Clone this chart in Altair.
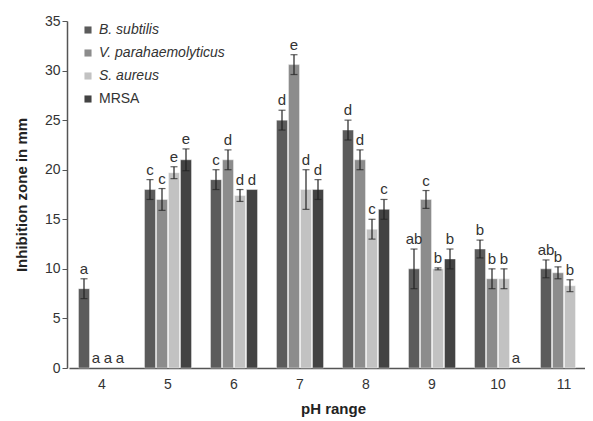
import altair as alt
import pandas as pd
import numpy as np

ph = ["4", "5", "6", "7", "8", "9", "10", "11"]
series = ["B. subtilis", "V. parahaemolyticus", "S. aureus", "MRSA"]
colors = ["#5b5b5b", "#8c8c8c", "#c2c2c2", "#434343"]

b_val = [8, 18, 19, 25, 24, 10, 12, 10]
b_err = [1, 1, 1, 1, 1, 2, 0.9, 0.9]
b_lab = ["a", "c", "c", "d", "d", "ab", "b", "ab"]

v_val = [0, 17, 21, 30.6, 21, 17, 9, 9.6]
v_err = [0, 1.1, 1, 1, 1, 0.9, 1, 0.6]
v_lab = ["a", "c", "d", "e", "d", "c", "b", "b"]

s_val = [0, 19.7, 17.4, 18, 14, 10, 9, 8.3]
s_err = [0, 0.6, 0.6, 2, 1, 0.1, 1, 0.6]
s_lab = ["a", "e", "d", "d", "c", "b", "b", "b"]

m_val = [0, 21, 18, 18, 16, 11, 0, None]
m_err = [0, 1.1, 0, 1, 1, 1, 0, None]
m_lab = ["a", "e", "d", "d", "c", "b", "a", None]

rows = []
for name, vals, errs, labs in zip(series, [b_val, v_val, s_val, m_val],
                                  [b_err, v_err, s_err, m_err],
                                  [b_lab, v_lab, s_lab, m_lab]):
    for p, v, e, l in zip(ph, vals, errs, labs):
        if v is None:
            continue
        rows.append({"ph": p, "series": name, "value": v, "err": e,
                     "lo": v - e, "hi": v + e, "label": l})
df = pd.DataFrame(rows)

x_enc = alt.X("ph:N", sort=ph, scale=alt.Scale(range=[2, 530], paddingInner=0, paddingOuter=0),
              axis=alt.Axis(title="pH range", labelAngle=0, ticks=False, labelPadding=9,
                            labelFontSize=14, labelColor="#333333", titleFontSize=15,
                            titleFontWeight="bold", titleColor="#222222", titlePadding=10,
                            domainColor="#555555", domainWidth=1.5))
xo = alt.XOffset("series:N", sort=series,
                 scale=alt.Scale(domain=series, paddingInner=0.08, paddingOuter=0.79))
y_scale = alt.Scale(domain=[0, 35], nice=False)

bars = alt.Chart(df[df["value"] > 0]).mark_bar(stroke="white", strokeWidth=0.6,
                                               strokeOpacity=0.7).encode(
    x=x_enc,
    xOffset=xo,
    y=alt.Y("value:Q", scale=y_scale,
            axis=alt.Axis(title="Inhibition zone in mm", values=list(range(0, 36, 5)),
                          grid=False, tickSize=5, labelFontSize=14, labelColor="#333333",
                          titleFontSize=15, titleFontWeight="bold", titleColor="#222222",
                          titlePadding=15, domainColor="#555555", tickColor="#555555",
                          domainWidth=1.5)),
    color=alt.Color("series:N", sort=series,
                    scale=alt.Scale(domain=series, range=colors),
                    legend=alt.Legend(title=None, orient="none", legendX=14, legendY=2,
                                      symbolType="square", symbolSize=50, labelFontSize=14,
                                      labelColor="#333333", rowPadding=9, labelOffset=4,
                                      symbolStrokeWidth=0,
                                      labelFontStyle=alt.ExprRef(
                                          "datum.label == 'MRSA' ? 'normal' : 'italic'"))),
)

eb = df[df["err"] > 0]
rules = alt.Chart(eb).mark_rule(color="#222222", strokeWidth=1.2).encode(
    x=alt.X("ph:N", sort=ph), xOffset=xo,
    y=alt.Y("lo:Q", scale=y_scale), y2="hi:Q")
cap_top = alt.Chart(eb).mark_tick(color="#222222", thickness=1.2, size=7).encode(
    x=alt.X("ph:N", sort=ph), xOffset=xo, y=alt.Y("hi:Q", scale=y_scale))
cap_bot = alt.Chart(eb).mark_tick(color="#222222", thickness=1.2, size=7).encode(
    x=alt.X("ph:N", sort=ph), xOffset=xo, y=alt.Y("lo:Q", scale=y_scale))

labels = alt.Chart(df).mark_text(baseline="bottom", dy=-2, fontSize=15, color="#333333",
                                 font="Liberation Sans").encode(
    x=alt.X("ph:N", sort=ph), xOffset=xo,
    y=alt.Y("hi:Q", scale=y_scale), text="label:N")

chart = alt.layer(bars, rules, cap_top, cap_bot, labels).properties(
    width=518, height=347,
    autosize=alt.AutoSizeParams(type="none"),
    padding={"left": 59, "top": 13, "right": 0, "bottom": 52},
).configure(font="Liberation Sans").configure_view(stroke=None)

chart.save("out.html", embed_options={"renderer": "svg", "actions": False})
